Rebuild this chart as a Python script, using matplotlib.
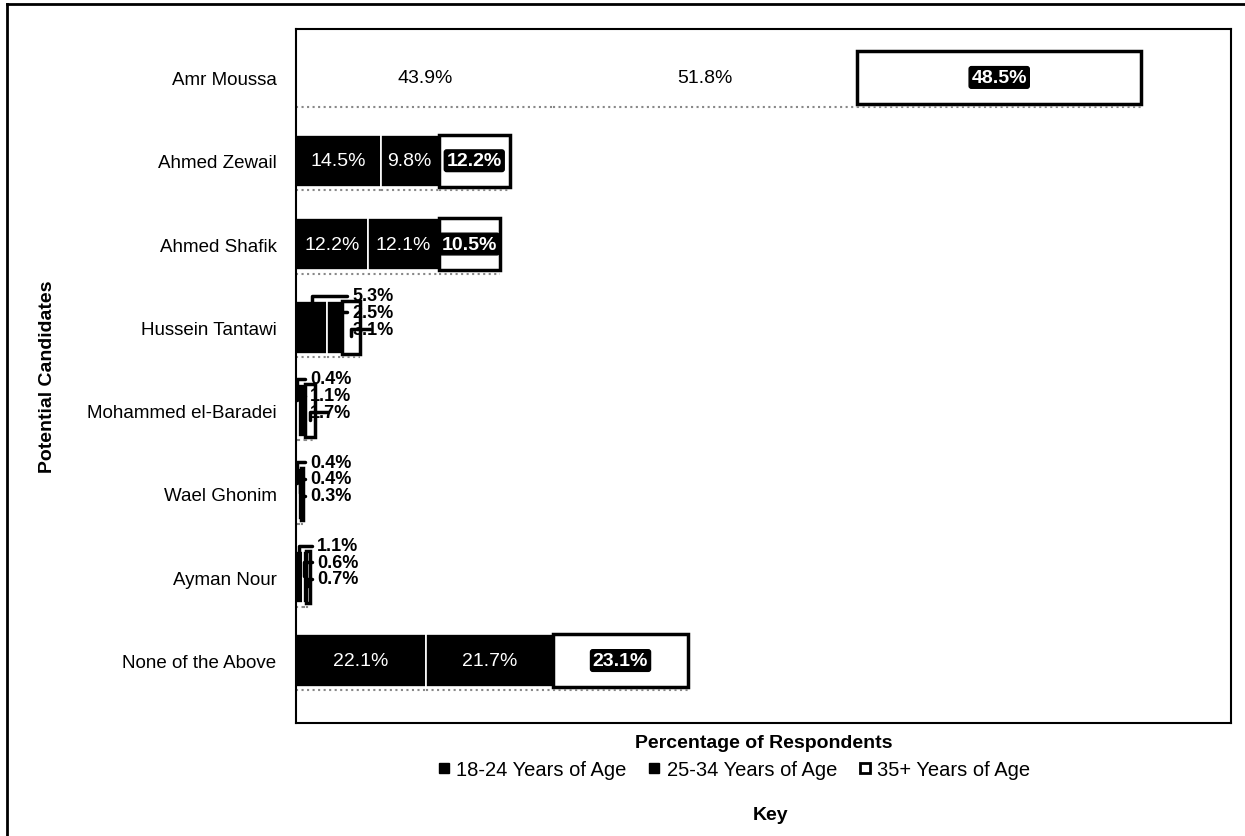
import matplotlib.pyplot as plt
import numpy as np
from matplotlib.lines import Line2D

plt.rcParams['font.family'] = ['Liberation Sans', 'DejaVu Sans']

candidates = ['Amr Moussa', 'Ahmed Zewail', 'Ahmed Shafik', 'Hussein Tantawi',
              'Mohammed el-Baradei', 'Wael Ghonim', 'Ayman Nour', 'None of the Above']
age_18_24 = [43.9, 14.5, 12.2, 5.3, 0.4, 0.4, 1.1, 22.1]
age_25_34 = [51.8, 9.8, 12.1, 2.5, 1.1, 0.4, 0.6, 21.7]
age_35_up = [48.5, 12.2, 10.5, 3.1, 1.7, 0.3, 0.7, 23.1]
series_names = ['18-24 Years of Age', '25-34 Years of Age', '35+ Years of Age']

fig = plt.figure(figsize=(12.45, 8.37), dpi=100)
ax = fig.add_axes([0.2378, 0.135, 0.7510, 0.829])

y = np.arange(len(candidates))
h = 0.63
series = [age_18_24, age_25_34, age_35_up]
left = np.zeros(len(candidates))
for k, vals in enumerate(series):
    vals = np.array(vals)
    for i in range(len(candidates)):
        if k < 2:
            # scan washed out the first two Amr Moussa segments
            fc = 'white' if i == 0 else 'black'
            ax.barh(y[i], vals[i], left=left[i], height=h, color=fc,
                    edgecolor='white', linewidth=1.2)
        else:
            ax.barh(y[i], vals[i], left=left[i], height=h, color='white',
                    edgecolor='black', linewidth=2.5)
        # grey shadow under the bar
        ax.plot([left[i], left[i] + vals[i]], [y[i] + h / 2 + 0.04] * 2,
                color='#888888', lw=1.5, ls=':')
        cx = left[i] + vals[i] / 2
        if vals[i] >= 6:
            if k == 2:
                ax.text(cx, y[i], f'{vals[i]:.1f}%', ha='center', va='center',
                        color='white', fontsize=14, fontweight='bold',
                        bbox=dict(boxstyle='round,pad=0.12', fc='black', ec='black'))
            elif i == 0:
                ax.text(cx, y[i], f'{vals[i]:.1f}%', ha='center', va='center',
                        color='black', fontsize=14)
            else:
                ax.text(cx, y[i], f'{vals[i]:.1f}%', ha='center', va='center',
                        color='white', fontsize=14)
    left += vals

# small values: labels pulled out with elbow leaders
small_rows = [3, 4, 5, 6]
text_x = {3: 9.6, 4: 2.4, 5: 2.4, 6: 3.6}
for i in small_rows:
    start = 0.0
    for k, vals in enumerate(series):
        v = vals[i]
        cx = start + v / 2
        ty = y[i] - 0.38 + k * 0.2
        ax.annotate(f'{v:.1f}%', xy=(cx, y[i] - 0.1 + k * 0.12),
                    xytext=(text_x[i], ty), ha='left', va='center',
                    fontsize=13, fontweight='bold', color='black',
                    arrowprops=dict(arrowstyle='-', color='black', lw=2.5,
                                    connectionstyle='angle,angleA=0,angleB=90,rad=0'))
        start += v

ax.set_xlim(0, 159.5)
ax.set_ylim(len(candidates) - 0.25, -0.58)
ax.set_yticks(y)
ax.set_yticklabels(candidates, fontsize=13.5)
ax.tick_params(axis='y', length=0, pad=14)
ax.set_xticks([])
for s in ax.spines.values():
    s.set_linewidth(1.5)
    s.set_color('black')

ax.set_ylabel('Potential Candidates', fontsize=14, fontweight='bold')
ax.yaxis.set_label_coords(-0.257, 0.5)
ax.set_xlabel('Percentage of Respondents', fontsize=14, fontweight='bold', labelpad=8)

handles = [Line2D([], [], marker='s', color='black', ls='', markersize=7),
           Line2D([], [], marker='s', color='black', ls='', markersize=7),
           Line2D([], [], marker='s', markerfacecolor='white', markeredgecolor='black',
                  markeredgewidth=2, ls='', markersize=7)]
fig.legend(handles, series_names, loc='center', bbox_to_anchor=(0.588, 0.079),
           ncol=3, frameon=False, fontsize=14.5, handletextpad=0.1,
           columnspacing=0.9, handlelength=1.0)
fig.text(0.619, 0.026, 'Key', ha='center', va='center', fontsize=14, fontweight='bold')

# outer frame of the scanned page
fig.add_artist(Line2D([0.0056, 0.0056], [0.0, 0.994], color='black', lw=2,
                      transform=fig.transFigure))
fig.add_artist(Line2D([0.0056, 1.0], [0.994, 0.994], color='black', lw=2,
                      transform=fig.transFigure))

fig.savefig('out.png', dpi=100)
